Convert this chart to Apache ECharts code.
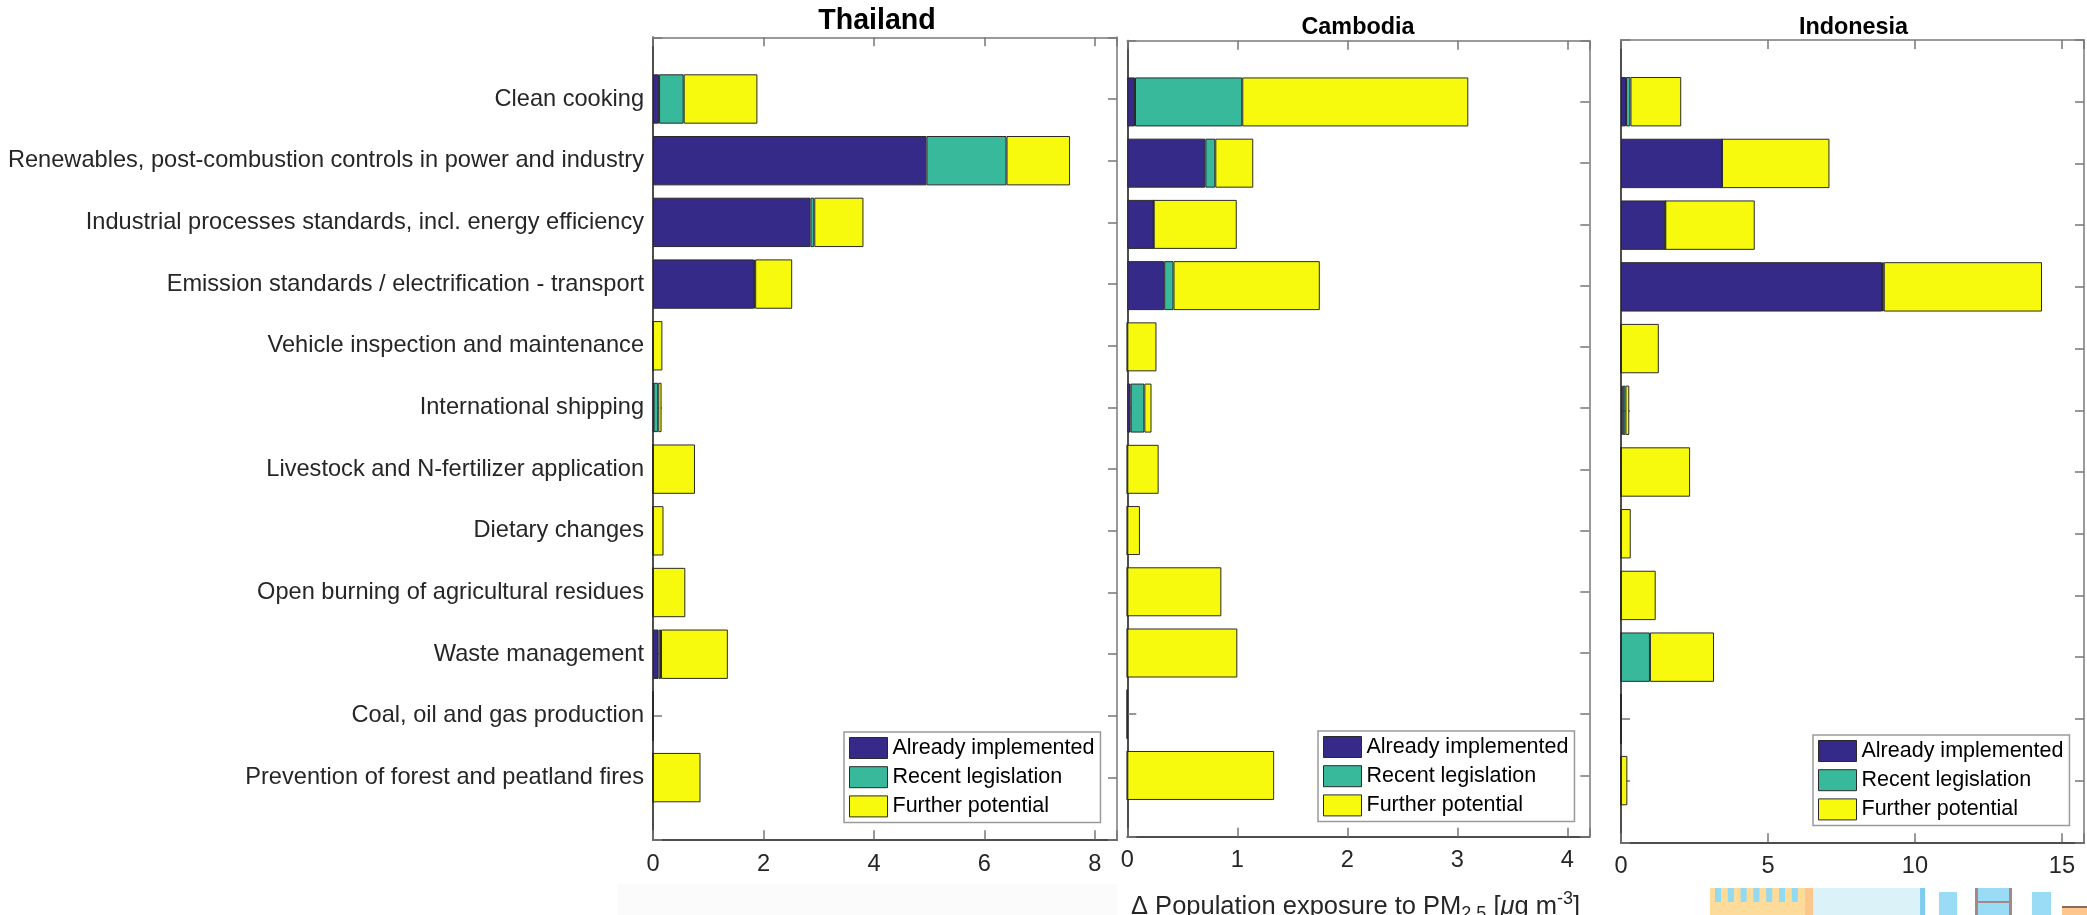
<!DOCTYPE html>
<html>
<head>
<meta charset="utf-8">
<script src="https://cdn.jsdelivr.net/npm/echarts@6/dist/echarts.min.js"></script>
<style>
  html, body { margin: 0; padding: 0; background: #ffffff; }
  #chart { width: 2087px; height: 915px; }
</style>
</head>
<body>
<div id="chart"></div>
<script>
// Source-sector measures, listed top to bottom
const categories = [
  'Clean cooking',
  'Renewables, post-combustion controls in power and industry',
  'Industrial processes standards, incl. energy efficiency',
  'Emission standards / electrification - transport',
  'Vehicle inspection and maintenance',
  'International shipping',
  'Livestock and N-fertilizer application',
  'Dietary changes',
  'Open burning of agricultural residues',
  'Waste management',
  'Coal, oil and gas production',
  'Prevention of forest and peatland fires'
];

const measureNames = ['Already implemented', 'Recent legislation', 'Further potential'];
const countries = ['Thailand', 'Cambodia', 'Indonesia'];

// Reduction in population-weighted PM2.5 exposure (µg m-3)
const thailandImplemented = [0.11, 4.95, 2.85, 1.83, 0, 0.01, 0, 0, 0, 0.10, 0, 0];
const thailandLegislation = [0.445, 1.45, 0.07, 0.02, 0, 0.085, 0, 0, 0, 0.045, 0, 0];
const thailandFurther     = [1.335, 1.15, 0.89, 0.67, 0.17, 0.06, 0.76, 0.19, 0.585, 1.21, 0, 0.86];

const cambodiaImplemented = [0.07, 0.71, 0.24, 0.335, 0, 0.03, 0, 0, 0, 0, 0, 0];
const cambodiaLegislation = [0.975, 0.09, 0, 0.085, 0, 0.125, 0, 0, 0, 0, 0, 0];
const cambodiaFurther     = [2.055, 0.345, 0.755, 1.33, 0.265, 0.065, 0.285, 0.115, 0.855, 1.0, 0, 1.335];

const indonesiaImplemented = [0.17, 3.42, 1.50, 8.84, 0, 0.06, 0, 0, 0, 0, 0, 0];
const indonesiaLegislation = [0.15, 0, 0, 0.06, 0, 0.09, 0, 0, 0, 0.98, 0, 0];
const indonesiaFurther     = [1.72, 3.64, 3.03, 5.36, 1.28, 0.13, 2.34, 0.33, 1.175, 2.17, 0.02, 0.215];

// x-axis ranges and tick steps per country
const xTickStep = [2, 1, 5];
const xLimit = [8.4, 4.2, 15.75];

const panelValues = [
  [thailandImplemented, thailandLegislation, thailandFurther],
  [cambodiaImplemented, cambodiaLegislation, cambodiaFurther],
  [indonesiaImplemented, indonesiaLegislation, indonesiaFurther]
];

// ---- styling and layout ----
const FONT = '"Liberation Sans", Arial, Helvetica, sans-serif';
const measureColors = ['#352a87', '#38b99c', '#f8fa0e'];
const textColor = '#262626';
const axisFont = 23.6;

const panelBoxes = [
  { left: 653,    right: 1117,   top: 37.3, bottom: 839.3, titleX: 877,    titleY: 21.3, titleSize: 28.6, legendLeft: 844,  legendTop: 732, labelMargin: 13 },
  { left: 1127.3, right: 1589.3, top: 40.7, bottom: 836.7, titleX: 1358,   titleY: 27.5, titleSize: 23.4, legendLeft: 1318, legendTop: 731, labelMargin: 11.5 },
  { left: 1621,   right: 2086,   top: 40,   bottom: 842.3, titleX: 1853.5, titleY: 27.2, titleSize: 23.4, legendLeft: 1813, legendTop: 735, labelMargin: 12.5 }
];

const grids = [], xAxes = [], yAxes = [], series = [], legends = [], graphics = [];

const darkLine = { show: true, onZero: false, lineStyle: { color: '#4d4d4d', width: 2 } };
const lightLine = { show: true, onZero: false, lineStyle: { color: '#9a9a9a', width: 2 } };
const innerTicks = { show: true, inside: true, length: 9, lineStyle: { color: '#777777', width: 1.5 } };

panelBoxes.forEach((b, p) => {
  const w = b.right - b.left;
  const h = b.bottom - b.top;
  const band = h / (categories.length + 1);

  // frame grid: box, ticks and tick labels
  grids.push({ left: b.left, top: b.top, width: w, height: h, show: false });
  // bar grid: half a band inside the frame at top and bottom
  grids.push({ left: b.left, top: b.top + band / 2, width: w, height: band * categories.length, show: false });

  const frameGrid = 2 * p, barGrid = 2 * p + 1;
  const step = xTickStep[p];

  xAxes.push({
    type: 'value', gridIndex: frameGrid, position: 'bottom', min: 0, max: xLimit[p], interval: step,
    axisLine: darkLine, axisTick: innerTicks, splitLine: { show: false },
    axisLabel: {
      show: true, margin: b.labelMargin, fontSize: axisFont, fontFamily: FONT, color: textColor,
      formatter: v => (Math.abs(v / step - Math.round(v / step)) < 1e-6 ? String(v) : '')
    }
  });
  xAxes.push({
    type: 'value', gridIndex: frameGrid, position: 'top', min: 0, max: xLimit[p], interval: step,
    axisLine: lightLine, axisTick: innerTicks, splitLine: { show: false }, axisLabel: { show: false }
  });
  xAxes.push({ type: 'value', gridIndex: barGrid, min: 0, max: xLimit[p], show: false });

  yAxes.push({
    type: 'value', gridIndex: frameGrid, position: 'left', min: 0, max: categories.length + 1, interval: 1, inverse: true,
    axisLine: darkLine, axisTick: innerTicks, splitLine: { show: false }, axisLabel: { show: false }
  });
  yAxes.push({
    type: 'value', gridIndex: frameGrid, position: 'right', min: 0, max: categories.length + 1, interval: 1, inverse: true,
    axisLine: lightLine, axisTick: innerTicks, splitLine: { show: false }, axisLabel: { show: false }
  });
  yAxes.push({
    type: 'category', gridIndex: barGrid, data: categories, inverse: true,
    axisLine: { show: false }, axisTick: { show: false }, splitLine: { show: false },
    axisLabel: { show: p === 0, margin: 9, fontSize: axisFont, fontFamily: FONT, color: textColor }
  });

  panelValues[p].forEach((vals, k) => {
    series.push({
      type: 'bar', name: measureNames[k], stack: countries[p],
      xAxisIndex: 3 * p + 2, yAxisIndex: 3 * p + 2,
      data: vals, barCategoryGap: '20%',
      itemStyle: { color: measureColors[k], borderColor: '#2a2a2a', borderWidth: 1 },
      emphasis: { disabled: true }
    });
  });

  legends.push({
    orient: 'vertical', left: b.legendLeft, top: b.legendTop, data: measureNames,
    icon: 'rect', itemWidth: 38, itemHeight: 21, itemGap: 7.2, padding: [5, 6, 5, 5],
    borderColor: '#9a9a9a', borderWidth: 1.5, backgroundColor: '#ffffff', selectedMode: false,
    itemStyle: { borderColor: '#2a2a2a', borderWidth: 1 },
    textStyle: { fontSize: 21.5, fontFamily: FONT, color: '#000000' }
  });

  graphics.push({
    type: 'text', x: b.titleX, y: b.titleY, z: 10,
    style: {
      text: countries[p], fontSize: b.titleSize, fontWeight: 'bold', fontFamily: FONT,
      fill: '#000000', align: 'center', verticalAlign: 'middle'
    }
  });
});

// shared x-axis title under the middle panel
graphics.push({
  type: 'text', x: 1131, y: 907, z: 10,
  style: {
    text: 'Δ Population exposure to PM{sub|2.5} [{it|μ}g m{sup|-3}]',
    fontSize: 25.5, fontFamily: FONT, fill: textColor, align: 'left', verticalAlign: 'middle',
    rich: {
      sub: { fontSize: 18, fontFamily: FONT, fill: textColor, padding: [15, 0, 0, 0] },
      sup: { fontSize: 18, fontFamily: FONT, fill: textColor, padding: [0, 0, 15, 0] },
      it: { fontSize: 25.5, fontFamily: FONT, fontStyle: 'italic', fill: textColor }
    }
  }
});

// faint band along the bottom left of the figure
graphics.push({ type: 'rect', z: -1, shape: { x: 618, y: 884, width: 499, height: 31 }, style: { fill: '#fbfbfb' } });

// decorative strip along the bottom-right edge
const strip = [
  [1710, 888, 95, 27, '#fddb9a'],
  [1805, 888, 8, 27, '#fdc68c'],
  [1813, 888, 107, 27, '#dcf2f9'],
  [1920, 888, 5, 27, '#7fcdec'],
  [1939, 892, 18, 23, '#9adcf6'],
  [1975, 888, 37, 27, '#9adcf6'],
  [1975, 888, 3, 27, '#a48888'],
  [2009, 888, 3, 27, '#a48888'],
  [1975, 901, 37, 2, '#a48888'],
  [2032, 892, 19, 23, '#9adcf6'],
  [2062, 908, 25, 7, '#fdc68c'],
  [2062, 906, 25, 2, '#8a6a5a']
];
for (let k = 0; k < 7; k++) strip.push([1715 + k * 12.8, 888, 6, 14, '#92d9f2']);
strip.forEach(r => graphics.push({
  type: 'rect', z: -1, shape: { x: r[0], y: r[1], width: r[2], height: r[3] }, style: { fill: r[4] }
}));

const chart = echarts.init(document.getElementById('chart'), null, { renderer: 'canvas' });
chart.setOption({
  animation: false,
  backgroundColor: '#ffffff',
  textStyle: { fontFamily: FONT },
  grid: grids,
  xAxis: xAxes,
  yAxis: yAxes,
  legend: legends,
  series: series,
  graphic: graphics,
  tooltip: { show: false }
});
</script>
</body>
</html>
